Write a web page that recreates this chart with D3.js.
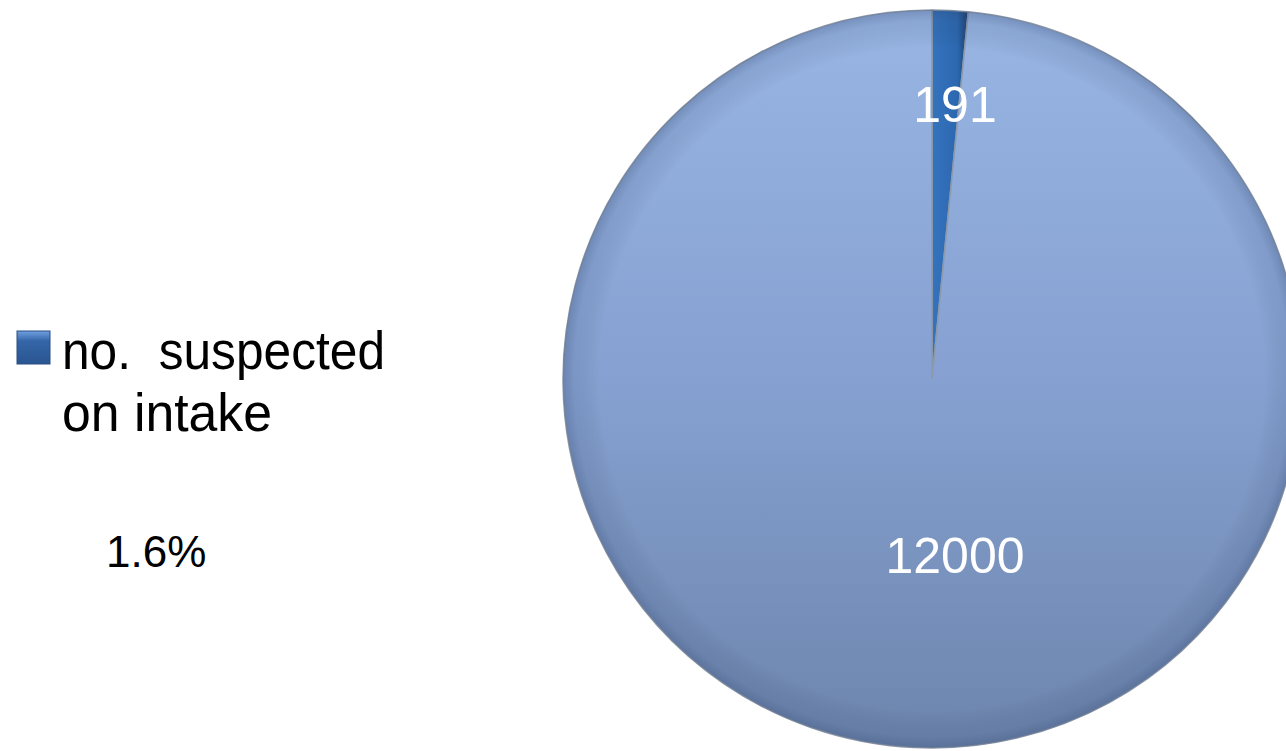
<!DOCTYPE html>
<html>
<head>
<meta charset="utf-8">
<script src="https://cdn.jsdelivr.net/npm/d3@7"></script>
<style>
html,body{margin:0;padding:0;background:#fff;}
svg{display:block;}
text.pre{white-space:pre;}
</style>
</head>
<body>
<svg id="chart" width="1286" height="751"></svg>
<script>
const categories = ["no.  suspected on intake", "not suspected"];
const values = [191, 12000];
const legendLines = ["no.  suspected", "on intake"];
const sliceColors = ["#2f6cb5", "#8aa6d6"];

const svg = d3.select("#chart");
const W = 1286, H = 751;
const cx = 932, cy = 379, r = 369;

const defs = svg.append("defs");
const gBig = defs.append("linearGradient").attr("id","gBig").attr("x1",0).attr("y1",0).attr("x2",0).attr("y2",1);
gBig.append("stop").attr("offset","0%").attr("stop-color","#98b5e3");
gBig.append("stop").attr("offset","50%").attr("stop-color","#86a1d1");
gBig.append("stop").attr("offset","100%").attr("stop-color","#6d85ad");
const gSmall = defs.append("linearGradient").attr("id","gSmall").attr("x1",0).attr("y1",0).attr("x2",1).attr("y2",0);
gSmall.append("stop").attr("offset","0%").attr("stop-color","#3573bd");
gSmall.append("stop").attr("offset","70%").attr("stop-color","#2c68b0");
gSmall.append("stop").attr("offset","100%").attr("stop-color","#1d3f6e");
const gRim = defs.append("radialGradient").attr("id","gRim").attr("cx","50%").attr("cy","50%").attr("r","50%");
gRim.append("stop").attr("offset","90%").attr("stop-color","#000").attr("stop-opacity",0);
gRim.append("stop").attr("offset","97%").attr("stop-color","#2a3f66").attr("stop-opacity",0.12);
gRim.append("stop").attr("offset","100%").attr("stop-color","#2a3f66").attr("stop-opacity",0.3);
const gLeg = defs.append("linearGradient").attr("id","gLeg").attr("x1",0).attr("y1",0).attr("x2",0).attr("y2",1);
gLeg.append("stop").attr("offset","0%").attr("stop-color","#6fa0e0");
gLeg.append("stop").attr("offset","30%").attr("stop-color","#3566a8");
gLeg.append("stop").attr("offset","100%").attr("stop-color","#2a5590");

const fills = ["url(#gSmall)", "url(#gBig)"];

const pie = d3.pie().sort(null).value(d => d)(values);
const arc = d3.arc().innerRadius(0).outerRadius(r);

const g = svg.append("g").attr("transform", `translate(${cx},${cy})`);
g.selectAll("path.slice").data(pie).join("path")
  .attr("class","slice")
  .attr("d", arc)
  .attr("fill", (d,i) => fills[i])
  .attr("stroke", "#8d99aa")
  .attr("stroke-width", 1.5);

// rim shading
g.append("circle").attr("r", r).attr("fill","url(#gRim)").attr("pointer-events","none");

// labels
const labelPos = [[23, -257], [23, 194]];
g.selectAll("text.val").data(pie).join("text")
  .attr("class","val")
  .attr("x", (d,i) => labelPos[i][0])
  .attr("y", (d,i) => labelPos[i][1])
  .attr("text-anchor","middle")
  .attr("font-family","Liberation Sans, Arial, sans-serif")
  .attr("font-size", 50)
  .attr("fill","#fff")
  .text(d => d.data);

// legend
svg.append("rect").attr("x",17).attr("y",331).attr("width",33).attr("height",33)
  .attr("fill","url(#gLeg)").attr("stroke","#2a4f85").attr("stroke-width",1);
const lt = svg.append("g").attr("font-family","Liberation Sans, Arial, sans-serif").attr("font-size",53).attr("fill","#000");
lt.append("text").attr("class","pre").attr("xml:space","preserve").attr("x",62).attr("y",369)
  .attr("textLength",323).attr("lengthAdjust","spacingAndGlyphs").text(legendLines[0]);
lt.append("text").attr("class","pre").attr("x",62).attr("y",431)
  .attr("textLength",210).attr("lengthAdjust","spacingAndGlyphs").text(legendLines[1]);

// percentage
const total = d3.sum(values);
svg.append("text").attr("x",106).attr("y",567)
  .attr("font-family","Liberation Sans, Arial, sans-serif").attr("font-size",44).attr("fill","#000")
  .text(d3.format(".1f")(values[0]/total*100) + "%");
</script>
</body>
</html>
